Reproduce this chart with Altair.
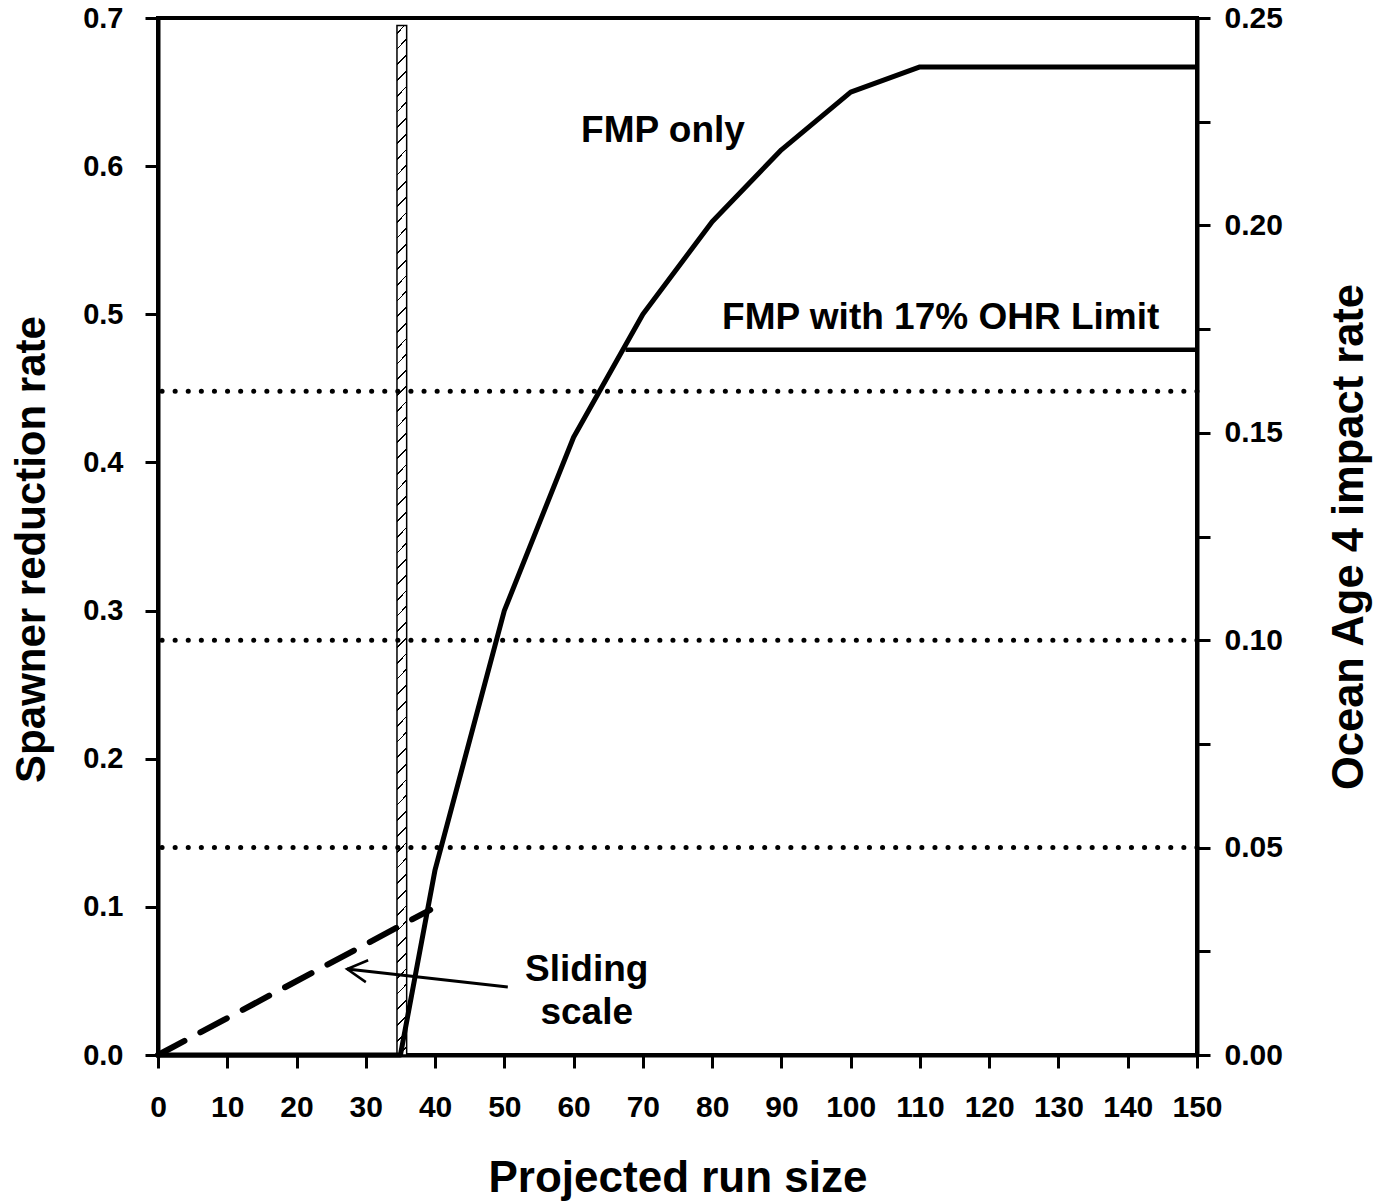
import altair as alt
import pandas as pd

# ---- data ----
fmp_x = [0, 35, 40, 50, 60, 70, 80, 90, 100, 110, 150]
fmp_y = [0.0, 0.0, 0.125, 0.30, 0.417, 0.50, 0.5625, 0.611, 0.65, 0.667, 0.667]

ohr_x = [67.5, 150]
ohr_y = [0.476, 0.476]

slide_x = [0, 39.3]
slide_y = [0.0, 0.098]

dotted_right = [0.05, 0.10, 0.16]

bar_x = [34.5]
bar_x2 = [35.9]
bar_y2 = [0.695]

labels_text = ["FMP only", "FMP with 17% OHR Limit", "Sliding", "scale"]
labels_x = [72.9, 113.0, 61.9, 61.9]
labels_y = [0.624, 0.4975, 0.0574, 0.0284]

arrow_x = [50.5, 27.3]
arrow_y = [0.0459, 0.058]

x_ticks = list(range(0, 151, 10))
left_ticks = [0.0, 0.1, 0.2, 0.3, 0.4, 0.5, 0.6, 0.7]
right_ticks = [0.0, 0.025, 0.05, 0.075, 0.10, 0.125, 0.15, 0.175, 0.20, 0.225, 0.25]

FONT = "Liberation Sans"

xs = alt.Scale(domain=[0, 150], nice=False, zero=False)
yl = alt.Scale(domain=[0, 0.7], nice=False, zero=False)
yr = alt.Scale(domain=[0, 0.25], nice=False, zero=False)

x_axis = alt.Axis(values=x_ticks, format="d", title="Projected run size",
                  labelPadding=24, titlePadding=34, labelFontSize=30, titleFontSize=44)


def X(field="x"):
    return alt.X(f"{field}:Q", scale=xs, axis=x_axis)


# hatch gradient (style only)
W, H = 10.0, 1030.0
r = H / W
s = (1 + r) / (1 + r * r)
N = 66
w = 0.0017
stops = [alt.GradientStop(offset=0, color="white")]
for i in range(N):
    a = (i + 0.5) / N
    stops += [alt.GradientStop(offset=a - w / 2, color="white"),
              alt.GradientStop(offset=a - w / 2, color="black"),
              alt.GradientStop(offset=a + w / 2, color="black"),
              alt.GradientStop(offset=a + w / 2, color="white")]
stops.append(alt.GradientStop(offset=1, color="white"))
hatch = alt.LinearGradient(gradient="linear", stops=stops, x1=0, y1=0, x2=s, y2=s * r)

bar_df = pd.DataFrame({"x": bar_x, "x2": bar_x2, "y": [0.0], "y2": bar_y2})
bar = alt.Chart(bar_df).mark_rect(fill=hatch, stroke="black", strokeWidth=1.5).encode(
    x=X(),
    x2="x2:Q",
    y=alt.Y("y:Q", scale=yl, axis=alt.Axis(values=left_ticks, format=".1f",
                                          title="Spawner reduction rate",
                                          labelPadding=22, titlePadding=29,
                                          titleY=531, titleFontSize=42)),
    y2="y2:Q",
)

dot_df = pd.DataFrame({"v": dotted_right})
dots = alt.Chart(dot_df).mark_rule(color="black", strokeWidth=5, strokeDash=[0.1, 13],
                                   strokeCap="round").encode(
    y=alt.Y("v:Q", scale=yr, axis=alt.Axis(values=right_ticks, orient="right",
                                          labelExpr="round(datum.value*1000) % 50 == 0 ? format(datum.value, '.2f') : ''",
                                          title="Ocean Age 4 impact rate", titleAngle=270,
                                          titleBaseline="top", titleFontSize=43.5,
                                          labelPadding=14, labelFontSize=30,
                                          titlePadding=46)),
)

fmp_df = pd.DataFrame({"x": fmp_x, "y": fmp_y, "o": range(len(fmp_x))})
fmp = alt.Chart(fmp_df).mark_line(color="black", strokeWidth=5, strokeJoin="round").encode(
    x=X(), y=alt.Y("y:Q", scale=yl, axis=None), order="o:Q")

ohr_df = pd.DataFrame({"x": ohr_x, "y": ohr_y})
ohr = alt.Chart(ohr_df).mark_line(color="black", strokeWidth=4.5).encode(
    x=X(), y=alt.Y("y:Q", scale=yl, axis=None))

sl_df = pd.DataFrame({"x": slide_x, "y": slide_y})
slide = alt.Chart(sl_df).mark_line(color="black", strokeWidth=6, strokeDash=[30, 18],
                                   strokeCap="round").encode(
    x=X(), y=alt.Y("y:Q", scale=yl, axis=None))

ar_df = pd.DataFrame({"x": [arrow_x[0]], "y": [arrow_y[0]], "x2": [arrow_x[1]], "y2": [arrow_y[1]]})
arrow_line = alt.Chart(ar_df).mark_rule(color="black", strokeWidth=3).encode(
    x=X(), y=alt.Y("y:Q", scale=yl, axis=None), x2="x2:Q", y2="y2:Q")

head_df = pd.DataFrame({"x": [arrow_x[1]], "y": [arrow_y[1]]})
arrow_head = alt.Chart(head_df).mark_point(
    shape="M -1 -0.55 L 0 0 L -1 0.55", filled=False, stroke="black", strokeWidth=2.5,
    size=1600, angle=186, opacity=1).encode(
    x=X(), y=alt.Y("y:Q", scale=yl, axis=None))

txt_df = pd.DataFrame({"t": labels_text, "x": labels_x, "y": labels_y})
texts = alt.Chart(txt_df).mark_text(font=FONT, fontWeight="bold", fontSize=37,
                                    color="black", align="center", baseline="middle").encode(
    x=X(), y=alt.Y("y:Q", scale=yl, axis=None), text="t:N")

chart = alt.layer(bar, dots, fmp, ohr, slide, arrow_line, arrow_head, texts).resolve_scale(
    y="independent"
).properties(
    width=1039, height=1037,
    autosize=alt.AutoSizeParams(type="none"),
    padding={"left": 150, "top": 10, "right": 176, "bottom": 148},
).configure_view(
    stroke="black", strokeWidth=4
).configure_axis(
    labelFont=FONT, labelFontWeight="bold", labelFontSize=29, labelColor="black",
    titleFont=FONT, titleFontWeight="bold", titleFontSize=42, titleColor="black",
    domainColor="black", domainWidth=4, tickColor="black", tickWidth=3, tickSize=13,
    grid=False, labelFlush=False, labelOverlap=False,
)

chart.save("out.html", embed_options={"renderer": "svg", "actions": False})
